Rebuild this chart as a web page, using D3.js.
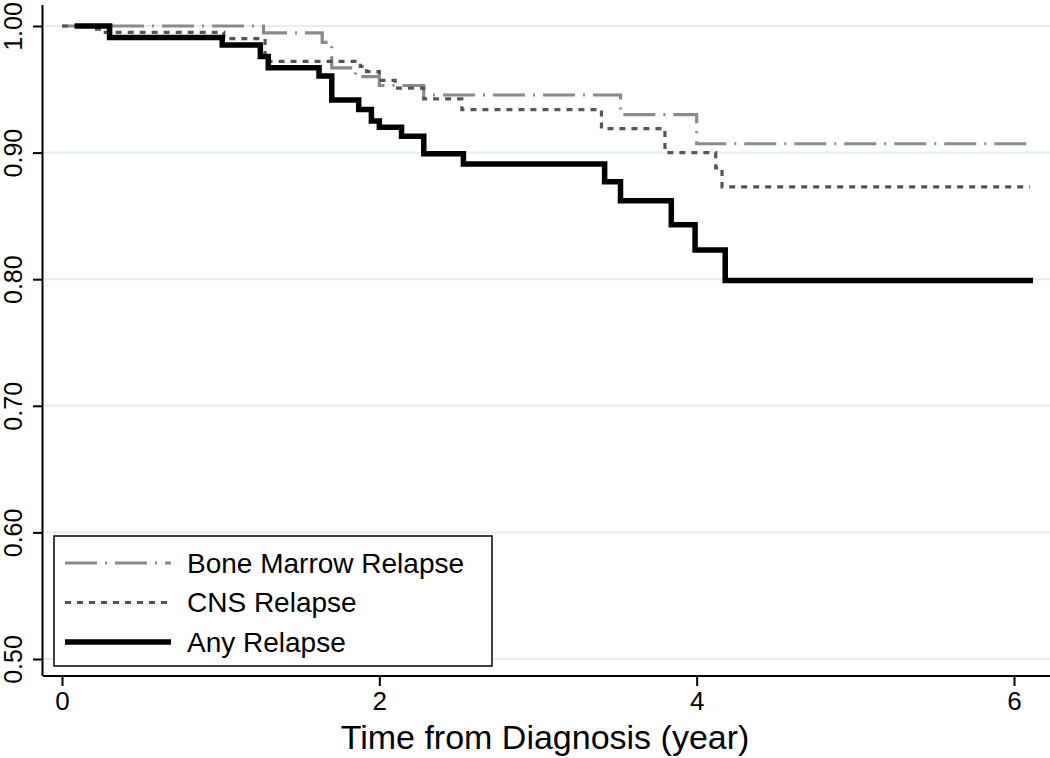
<!DOCTYPE html>
<html><head><meta charset="utf-8">
<script src="https://cdn.jsdelivr.net/npm/d3@7"></script>
<style>body{margin:0;background:#fff}svg{display:block}text{font-family:"Liberation Sans",Arial,sans-serif}</style>
</head><body><svg id="c" width="1050" height="758"></svg>
<script>
const xTicks = [0, 2, 4, 6];
const yTicks = [0.5, 0.6, 0.7, 0.8, 0.9, 1.0];
const yTickLabels = ["0.50", "0.60", "0.70", "0.80", "0.90", "1.00"];
const seriesNames = ["Bone Marrow Relapse", "CNS Relapse", "Any Relapse"];

const boneTimes = [0, 1.27, 1.64, 1.70, 1.85, 2.00, 2.28, 3.52, 4.00, 6.09];
const boneSurv  = [1.0, 0.9945, 0.987, 0.967, 0.960, 0.953, 0.9455, 0.930, 0.907, 0.907];

const cnsTimes = [0, 0.19, 0.26, 1.02, 1.28, 1.88, 1.92, 2.00, 2.10, 2.28, 2.52, 3.40, 3.80, 4.12, 4.16, 6.10];
const cnsSurv  = [1.0, 0.9976, 0.995, 0.990, 0.972, 0.968, 0.964, 0.957, 0.951, 0.9424, 0.934, 0.919, 0.900, 0.888, 0.873, 0.873];

const anyTimes = [0.08, 0.30, 1.01, 1.25, 1.30, 1.62, 1.70, 1.87, 1.95, 2.00, 2.14, 2.28, 2.53, 3.42, 3.52, 3.84, 3.99, 4.18, 6.12];
const anySurv  = [1.0, 0.991, 0.985, 0.976, 0.967, 0.9605, 0.9415, 0.934, 0.925, 0.920, 0.913, 0.899, 0.891, 0.877, 0.862, 0.843, 0.823, 0.799, 0.799];

const svg = d3.select("#c");
const x = d3.scaleLinear().domain([0, 6]).range([62, 1014]);
const y = d3.scaleLinear().domain([0.5, 1.0]).range([659, 26]);
const axisX0 = 43, axisY0 = 676;

// gridlines
svg.append("g").selectAll("line").data(yTicks).join("line")
  .attr("x1", axisX0).attr("x2", 1050)
  .attr("y1", d => y(d)).attr("y2", d => y(d))
  .attr("stroke", "#e4eef0").attr("stroke-width", 2);

// y axis
const yAxis = d3.axisLeft(y).tickValues(yTicks).tickSize(10).tickFormat((d, i) => yTickLabels[i]);
const gy = svg.append("g").attr("transform", `translate(${axisX0},0)`).call(yAxis);
gy.select(".domain").attr("d", `M-0.5,5V${axisY0}`).attr("stroke", "#000").attr("stroke-width", 2);
gy.selectAll(".tick line").attr("stroke", "#000").attr("stroke-width", 2);
gy.selectAll(".tick text").attr("font-size", 25).attr("fill", "#000")
  .attr("transform", "rotate(-90)").attr("x", 0).attr("y", -30)
  .attr("dy", "0.35em").attr("text-anchor", "middle");

// x axis
const xAxis = d3.axisBottom(x).tickValues(xTicks).tickSize(10).tickFormat(d3.format("d"));
const gx = svg.append("g").attr("transform", `translate(0,${axisY0})`).call(xAxis);
gx.select(".domain").attr("d", `M${axisX0},0H1050`).attr("stroke", "#000").attr("stroke-width", 2);
gx.selectAll(".tick line").attr("stroke", "#000").attr("stroke-width", 2);
gx.selectAll(".tick text").attr("font-size", 26).attr("fill", "#000").attr("y", 16);

svg.append("text").attr("x", 545).attr("y", 749).attr("text-anchor", "middle")
  .attr("font-size", 34).attr("fill", "#000").text("Time from Diagnosis (year)");

const styles = [
  {color: "#8a8a8a", width: 3.2, dash: "32,8,2,8"},
  {color: "#555555", width: 3.2, dash: "6,6"},
  {color: "#000000", width: 5.5, dash: null}
];
const data = [
  boneTimes.map((t, i) => [t, boneSurv[i]]),
  cnsTimes.map((t, i) => [t, cnsSurv[i]]),
  anyTimes.map((t, i) => [t, anySurv[i]])
];
const line = d3.line().x(d => x(d[0])).y(d => y(d[1])).curve(d3.curveStepAfter);
data.forEach((d, i) => {
  svg.append("path").datum(d).attr("d", line).attr("fill", "none")
    .attr("stroke", styles[i].color).attr("stroke-width", styles[i].width)
    .attr("stroke-dasharray", styles[i].dash);
});

// legend
const lg = svg.append("g");
lg.append("rect").attr("x", 54).attr("y", 536).attr("width", 438).attr("height", 130)
  .attr("fill", "#fff").attr("stroke", "#000").attr("stroke-width", 1.5);
seriesNames.forEach((name, i) => {
  const ly = 563 + i * 39.5;
  lg.append("line").attr("x1", 65).attr("x2", 171).attr("y1", ly).attr("y2", ly)
    .attr("stroke", styles[i].color).attr("stroke-width", styles[i].width)
    .attr("stroke-dasharray", styles[i].dash);
  lg.append("text").attr("x", 187).attr("y", ly).attr("dy", "0.35em")
    .attr("font-size", 28).attr("fill", "#000").text(name);
});
</script></body></html>
